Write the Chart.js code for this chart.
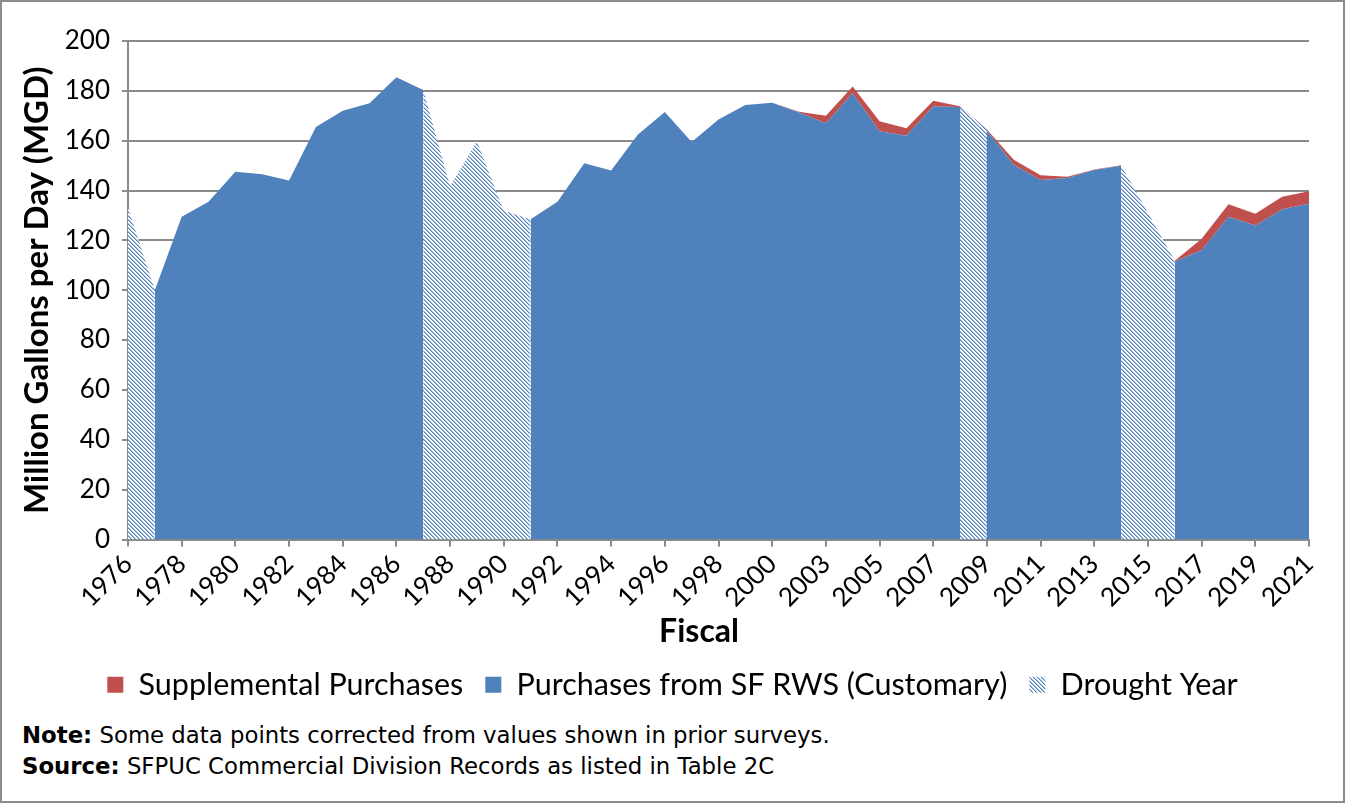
<!DOCTYPE html>
<html>
<head>
<meta charset="utf-8">
<title>SF RWS purchases</title>
<script src="https://cdn.jsdelivr.net/npm/chart.js@4.4.1/dist/chart.umd.min.js"></script>
<style>
  html, body { margin: 0; padding: 0; background: #fff; }
  #page { position: relative; width: 1345px; height: 803px; overflow: hidden; }
  #frame { position: absolute; left: 0; top: 0; width: 1345px; height: 803px; box-sizing: border-box; border: 2px solid #8c8c8c; pointer-events: none; }
  #chart-box { position: absolute; left: 0; top: 0; width: 1345px; height: 710px; }
  .notes { position: absolute; left: 22px; top: 720px; font-family: "DejaVu Sans", sans-serif; font-size: 22.8px; line-height: 31px; color: #000; }
</style>
</head>
<body>
<div id="page">
  <div id="chart-box"><canvas id="chart" width="1345" height="710"></canvas></div>
  <div class="notes">
    <div><b>Note:</b> Some data points corrected from values shown in prior surveys.</div>
    <div><b>Source:</b> SFPUC Commercial Division Records as listed in Table 2C</div>
  </div>
  <div id="frame"></div>
</div>
<script>
"use strict";

const years = [
  "1976", "1977", "1978", "1979", "1980", "1981", "1982", "1983", "1984", "1985",
  "1986", "1987", "1988", "1989", "1990", "1991", "1992", "1993", "1994", "1995",
  "1996", "1997", "1998", "1999", "2000", "2002", "2003", "2004", "2005", "2006",
  "2007", "2008", "2009", "2010", "2011", "2012", "2013", "2014", "2015", "2016",
  "2017", "2018", "2019", "2020", "2021",
];

// MGD, customary purchases from SF RWS (null inside drought spans)
const customary = [
  null, 100, 129.5, 135.5, 147.5, 146.5, 144, 165.5, 172, 175,
  185.5, 180.3, null, null, null, 128.5, 135.5, 151, 148, 162.5,
  171.5, 159.5, 168.5, 174.3, 175.2, 171.3, 167, 179, 163.8, 162,
  173.7, 173.5, 164, 150.4, 144.2, 145, 148.2, 150, null, 111.5,
  116, 129.5, 126, 132.5, 134.7,
];

// MGD, supplemental purchases stacked on top of customary
const supplemental = [
  null, 0, 0, 0, 0, 0, 0, 0, 0, 0,
  0, 0, null, null, null, 0, 0, 0, 0, 0,
  0, 0, 0, 0, 0, 0.3, 3, 2.7, 4, 3,
  2.3, 0.3, 0.5, 2, 1.9, 0.5, 0.2, 0.2, null, 0.3,
  4.7, 5, 4.7, 5, 5,
];

// MGD, total during drought years
const drought = [
  133, 100, null, null, null, null, null, null, null, null,
  null, 180.3, 141.7, 159.8, 131.9, 128.5, null, null, null, null,
  null, null, null, null, null, null, null, null, null, null,
  null, 173.8, 164.5, null, null, null, null, 150.2, 131, 111.8,
  null, null, null, null, null,
];

const yTicks = [0, 20, 40, 60, 80, 100, 120, 140, 160, 180, 200];

const BLUE = "#4f81bd";
const RED = "#c0504d";
const GRID = "#8a8a8a";
const FONT = 'Lato, "Open Sans", sans-serif';

function makeHatch() {
  const tile = document.createElement("canvas");
  tile.width = 4;
  tile.height = 4;
  const g = tile.getContext("2d");
  g.fillStyle = "#ffffff";
  g.fillRect(0, 0, 4, 4);
  for (let i = 0; i < 4; i++) {
    g.fillStyle = BLUE;
    g.fillRect(i, i, 1, 1);
    g.fillStyle = "#a9c1df";
    g.fillRect((i + 1) % 4, i, 1, 1);
  }
  return g.createPattern(tile, "repeat");
}

const hatch = makeHatch();

new Chart(document.getElementById("chart").getContext("2d"), {
  type: "line",
  data: {
    labels: years,
    datasets: [
      {
        label: "Supplemental Purchases",
        data: supplemental,
        backgroundColor: RED,
        borderColor: RED,
        borderWidth: 0,
        fill: 1,
        stack: "use",
        order: 2,
        pointRadius: 0,
      },
      {
        label: "Purchases from SF RWS (Customary)",
        data: customary,
        backgroundColor: BLUE,
        borderColor: BLUE,
        borderWidth: 0,
        fill: "origin",
        stack: "use",
        order: 1,
        pointRadius: 0,
      },
      {
        label: "Drought Year",
        data: drought,
        backgroundColor: hatch,
        borderColor: "rgba(0,0,0,0)",
        borderWidth: 0,
        fill: "origin",
        stack: "drought",
        order: 0,
        pointRadius: 0,
      },
    ],
  },
  options: {
    responsive: false,
    animation: false,
    layout: {
      padding: { top: 41, right: 36, bottom: 0, left: 36 },
    },
    elements: {
      line: { tension: 0 },
    },
    plugins: {
      tooltip: { enabled: false },
      legend: {
        position: "bottom",
        labels: {
          boxWidth: 16,
          boxHeight: 16,
          padding: 22,
          color: "#000",
          font: { family: FONT, size: 30.5 },
          sort: (a, b) => a.datasetIndex - b.datasetIndex,
        },
      },
    },
    scales: {
      x: {
        offset: false,
        border: { display: true, color: GRID, width: 2 },
        grid: { drawOnChartArea: false, drawTicks: true, tickLength: 7, color: GRID, lineWidth: 2 },
        ticks: {
          autoSkip: false,
          minRotation: 45,
          maxRotation: 45,
          padding: 2,
          color: "#000",
          font: { family: FONT, size: 26 },
          callback: (value, index) => (index % 2 === 0 ? years[index] : null),
        },
        title: {
          display: true,
          // trailing spaces pull the centred title left, as in the source
          text: "Fiscal" + "\u00a0".repeat(5),
          color: "#000",
          font: { family: FONT, size: 32, weight: "bold" },
          padding: { top: 0, bottom: -3 },
        },
        afterFit: (scale) => { scale.height = 108; },
      },
      y: {
        stacked: true,
        min: 0,
        max: 200,
        border: { display: true, color: GRID, width: 2 },
        grid: { color: GRID, lineWidth: 2, tickLength: 6 },
        afterBuildTicks: (scale) => { scale.ticks = yTicks.map((v) => ({ value: v })); },
        ticks: {
          padding: 12,
          color: "#000",
          font: { family: FONT, size: 26 },
        },
        title: {
          display: true,
          text: "Million Gallons per Day (MGD)",
          color: "#000",
          font: { family: FONT, size: 33, weight: "bold" },
          padding: { top: -18, bottom: 4 },
        },
        afterFit: (scale) => { scale.width = 92; },
      },
    },
  },
});
</script>
</body>
</html>
